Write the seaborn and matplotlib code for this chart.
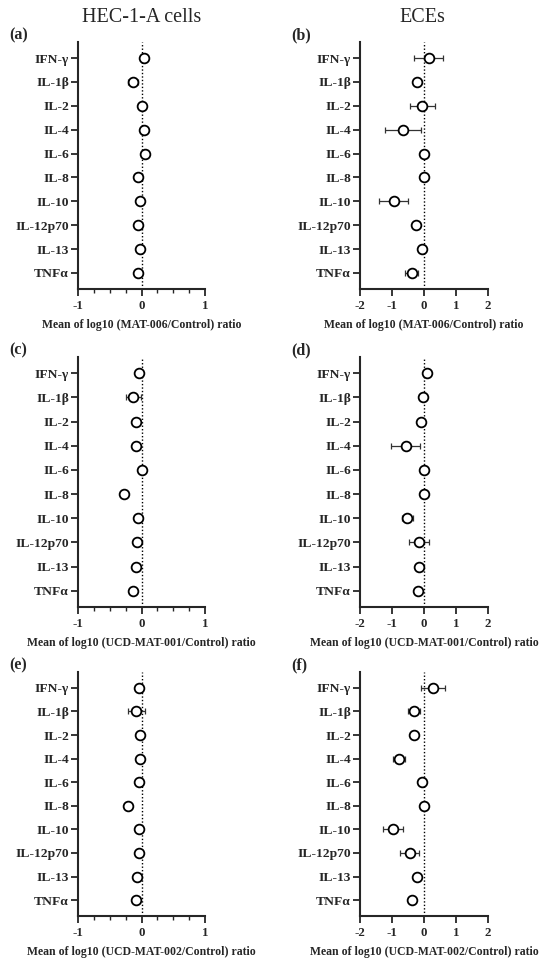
import numpy as np
import pandas as pd
import matplotlib
matplotlib.use("Agg")
import matplotlib.pyplot as plt
from matplotlib.ticker import MultipleLocator, NullLocator
import seaborn as sns

cytokines = ["IFN-γ", "IL-1β", "IL-2", "IL-4", "IL-6", "IL-8", "IL-10", "IL-12p70", "IL-13", "TNFα"]

a_mean = [0.04, -0.13, 0.0, 0.04, 0.05, -0.06, -0.02, -0.05, -0.02, -0.05]
a_err = [0.02, 0.08, 0.02, 0.03, 0.02, 0.02, 0.02, 0.02, 0.02, 0.02]
b_mean = [0.15, -0.22, -0.05, -0.66, 0.0, 0.01, -0.95, -0.26, -0.06, -0.39]
b_err = [0.45, 0.05, 0.40, 0.57, 0.03, 0.03, 0.45, 0.07, 0.03, 0.20]
c_mean = [-0.04, -0.13, -0.09, -0.09, 0.0, -0.27, -0.05, -0.07, -0.09, -0.14]
c_err = [0.02, 0.12, 0.02, 0.02, 0.02, 0.02, 0.02, 0.02, 0.02, 0.02]
d_mean = [0.09, -0.02, -0.09, -0.57, 0.0, 0.01, -0.52, -0.16, -0.16, -0.18]
d_err = [0.03, 0.03, 0.03, 0.46, 0.03, 0.03, 0.18, 0.32, 0.03, 0.03]
e_mean = [-0.04, -0.08, -0.03, -0.03, -0.04, -0.21, -0.04, -0.04, -0.07, -0.09]
e_err = [0.02, 0.13, 0.02, 0.02, 0.02, 0.02, 0.02, 0.02, 0.02, 0.02]
f_mean = [0.29, -0.31, -0.32, -0.78, -0.07, 0.0, -0.96, -0.45, -0.22, -0.38]
f_err = [0.38, 0.18, 0.05, 0.20, 0.03, 0.03, 0.31, 0.30, 0.05, 0.05]

panel_labels = ["(a)", "(b)", "(c)", "(d)", "(e)", "(f)"]
xlabels = ["Mean of log10 (MAT-006/Control) ratio",
           "Mean of log10 (MAT-006/Control) ratio",
           "Mean of log10 (UCD-MAT-001/Control) ratio",
           "Mean of log10 (UCD-MAT-001/Control) ratio",
           "Mean of log10 (UCD-MAT-002/Control) ratio",
           "Mean of log10 (UCD-MAT-002/Control) ratio"]
col_titles = ["HEC-1-A cells", "ECEs"]

means = [a_mean, b_mean, c_mean, d_mean, e_mean, f_mean]
errs = [a_err, b_err, c_err, d_err, e_err, f_err]

sns.set_style("ticks")
plt.rcParams["font.family"] = ["Liberation Serif", "DejaVu Serif"]
plt.rcParams["axes.unicode_minus"] = False

W, H = 550, 972
fig = plt.figure(figsize=(5.5, 9.72), dpi=100)

lefts = [78, 360]
widths = [127, 128]
rows = [(42, 289), (357, 607), (672, 916)]

for i in range(6):
    r, c = divmod(i, 2)
    top, bot = rows[r]
    ax = fig.add_axes([lefts[c] / W, 1 - bot / H, widths[c] / W, (bot - top) / H])
    df = pd.DataFrame({"cytokine": cytokines, "mean": means[i], "err": errs[i]})
    ax.axvline(0, color="black", lw=1.0, ls=(0, (1, 1.5)), zorder=1)
    ax.errorbar(df["mean"], np.arange(len(cytokines)), xerr=df["err"], fmt="none",
                ecolor="#333333", elinewidth=0.9, capsize=2.5, capthick=0.9, zorder=2)
    sns.stripplot(data=df, x="mean", y="cytokine", order=cytokines, jitter=False,
                  marker="o", size=7, color="white", edgecolor="black", linewidth=1.3,
                  ax=ax, zorder=3)
    ax.set_ylim(len(cytokines) - 1 + 0.67, -0.67)
    if c == 0:
        ax.set_xlim(-1, 1)
        ax.xaxis.set_major_locator(MultipleLocator(1))
        ax.xaxis.set_minor_locator(MultipleLocator(0.25))
    else:
        ax.set_xlim(-2, 2)
        ax.xaxis.set_major_locator(MultipleLocator(1))
        ax.xaxis.set_minor_locator(NullLocator())
    sns.despine(ax=ax)
    for s in ["left", "bottom"]:
        ax.spines[s].set_linewidth(1.5)
    ax.tick_params(axis="y", which="major", width=1.3, length=5, labelsize=9.7, pad=1.5)
    ax.tick_params(axis="x", which="major", width=1.3, length=5, labelsize=9.3, pad=3)
    ax.tick_params(axis="x", which="minor", width=1.0, length=3)
    for lab in ax.get_xticklabels() + ax.get_yticklabels():
        lab.set_fontweight("bold")
    ax.set_ylabel("")
    ax.set_xlabel(xlabels[i], fontsize=8.5, fontweight="bold", labelpad=5)
    lx = 9 if c == 0 else 291
    fig.text(lx / W, 1 - (top - 7) / H, panel_labels[i], fontsize=11.5,
             fontweight="bold", va="center", ha="left")
    if r == 0:
        cx = 142 if c == 0 else 422
        fig.text(cx / W, 1 - 18 / H, col_titles[c], fontsize=14.5, ha="center", va="center")

fig.savefig("out.png", dpi=100)
